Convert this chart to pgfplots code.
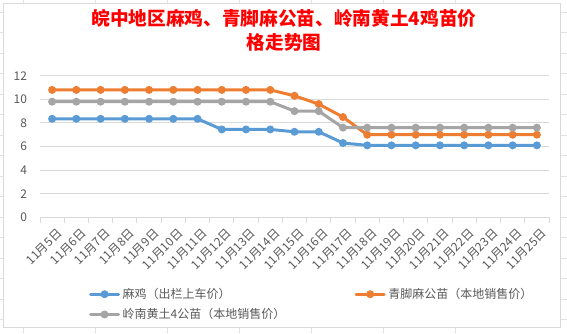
\documentclass[border=0pt]{standalone}
\usepackage{fontspec}
\setmainfont{Noto Sans CJK SC}
\usepackage{pgfplots}
\pgfplotsset{compat=1.18}
\definecolor{cblue}{HTML}{5B9BD5}
\definecolor{corange}{HTML}{ED7D31}
\definecolor{cgray}{HTML}{A5A5A5}
\definecolor{ctext}{HTML}{595959}
\definecolor{cgrid}{HTML}{D9D9D9}
\definecolor{ccell}{HTML}{E1E1E1}
\pgfplotstableread{
x blue orange gray
0 8.35 10.8 9.8
1 8.35 10.8 9.8
2 8.35 10.8 9.8
3 8.35 10.8 9.8
4 8.35 10.8 9.8
5 8.35 10.8 9.8
6 8.35 10.8 9.8
7 7.45 10.8 9.8
8 7.45 10.8 9.8
9 7.45 10.8 9.8
10 7.25 10.3 9.0
11 7.25 9.6 9.0
12 6.3 8.5 7.6
13 6.1 7.0 7.6
14 6.1 7.0 7.6
15 6.1 7.0 7.6
16 6.1 7.0 7.6
17 6.1 7.0 7.6
18 6.1 7.0 7.6
19 6.1 7.0 7.6
20 6.1 7.0 7.6
}\data
\begin{document}
\begin{tikzpicture}
\path[use as bounding box] (0,0) rectangle (425.25pt,-249.75pt);
% spreadsheet cells
\foreach \i in {0,...,6} {\draw[ccell,line width=0.75pt] ({(23+72*\i)*0.75pt},0) -- ({(23+72*\i)*0.75pt},-249.75pt);}
\foreach \j in {0,...,16} {\draw[ccell,line width=0.75pt] (0,{-(12+20.5*\j)*0.75pt}) -- (425.25pt,{-(12+20.5*\j)*0.75pt});}
\fill[white] (2.25pt,-2.25pt) rectangle (420pt,-245.25pt);
\draw[cgrid,line width=0.75pt] (2.25pt,-2.25pt) rectangle (420pt,-245.25pt);
\node[text=red,font=\fontsize{14}{18}\selectfont\bfseries,align=center] at (213pt,-22.5pt)
  {皖中地区麻鸡、青脚麻公苗、岭南黄土4鸡苗价\\格走势图};
\begin{axis}[
  at={(30pt,-163pt)}, anchor=south west,
  scale only axis, width=381.75pt, height=106.2pt,
  xmin=-0.5, xmax=20.5, ymin=0, ymax=12,
  ytick={0,2,...,12},
  xtick={0,...,20},
  xticklabels={11月5日,11月6日,11月7日,11月8日,11月9日,11月10日,11月11日,11月12日,11月13日,11月14日,11月15日,11月16日,11月17日,11月18日,11月19日,11月20日,11月21日,11月22日,11月23日,11月24日,11月25日},
  minor xtick={-0.5,0.5,...,20.5},
  major x tick style={draw=none},
  minor x tick style={cgrid,line width=0.75pt},
  minor tick length=4pt,
  tick align=outside,
  axis x line*=bottom, axis y line*=left,
  x axis line style={cgrid,line width=0.75pt,-},
  y axis line style={draw=none},
  ytick style={draw=none},
  ymajorgrids, grid style={cgrid,line width=0.75pt},
  tick label style={text=ctext,font=\fontsize{9}{11}\selectfont},
  /pgf/number format/assume math mode=true,
  xticklabel style={rotate=45,anchor=north east,xshift=3pt,yshift=-1pt},
  yticklabel style={xshift=-2pt},
  legend columns=2,
  legend style={draw=none,fill=none,at={(0.088,-0.46)},anchor=north west,
    font=\fontsize{9}{11}\selectfont,text=ctext,
    /tikz/every even column/.append style={column sep=50pt},
    row sep=2pt},
  legend cell align=left,
  legend image code/.code={\draw[mark repeat=2,mark phase=2,#1] plot coordinates {(0pt,0pt) (10.5pt,0pt) (21pt,0pt)};},
  every axis plot/.append style={line width=2.25pt,mark=*,mark size=2.6pt,line cap=round,line join=round},
  clip=false,
]
\addplot[cblue,mark options={fill=cblue,draw=cblue,line width=0.75pt}] table[x=x,y=blue] {\data};
\addlegendentry{麻鸡（出栏上车价）}
\addplot[corange,mark options={fill=corange,draw=corange,line width=0.75pt}] table[x=x,y=orange] {\data};
\addlegendentry{青脚麻公苗（本地销售价）}
\addplot[cgray,mark options={fill=cgray,draw=cgray,line width=0.75pt}] table[x=x,y=gray] {\data};
\addlegendentry{岭南黄土4公苗（本地销售价）}
\end{axis}
\end{tikzpicture}
\end{document}
